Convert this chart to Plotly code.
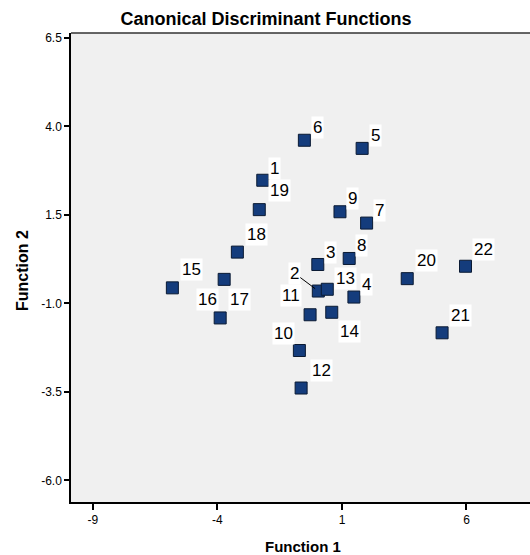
import plotly.graph_objects as go

# Data
case_ids = ["1", "2", "3", "4", "5", "6", "7", "8", "9", "10", "11",
            "12", "13", "14", "15", "16", "17", "18", "19", "20", "21", "22"]
function1 = [-2.18, 0.05, 0.03, 1.48, 1.81, -0.51, 1.99, 1.29, 0.92, -0.71, -0.28,
             -0.64, 0.41, 0.59, -5.81, -3.89, -3.73, -3.20, -2.32, 3.62, 5.02, 5.96]
function2 = [2.48, -0.65, 0.10, -0.82, 3.38, 3.61, 1.27, 0.27, 1.59, -2.33, -1.32,
             -3.39, -0.60, -1.25, -0.56, -1.41, -0.32, 0.45, 1.65, -0.30, -1.83, 0.05]
x_ticks = [-9, -4, 1, 6]
y_ticks = [6.5, 4.0, 1.5, -1.0, -3.5, -6.0]

# Label placement (screen offsets in px: dx right, dy down) - style only
label_offsets = {
    "1": (12, -12), "2": (-24, -18), "3": (13, -12), "4": (13, -13),
    "5": (13, -13), "6": (13, -13), "7": (13, -13), "8": (12, -13),
    "9": (13, -13), "10": (-16, -17), "11": (-19, -19), "12": (20, -18),
    "13": (18, -11), "14": (18, 19), "15": (19, -18), "16": (-13, -18),
    "17": (15, 20), "18": (19, -18), "19": (20, -19), "20": (19, -18),
    "21": (18, -17), "22": (18, -17),
}
leader_labels = {"2"}

FONT = "Liberation Sans, Arial, sans-serif"

W, H = 530, 555
L, T, R, B = 71, 33, 0, 53
PW, PH = W - L - R, H - T - B

fig = go.Figure()
fig.add_trace(go.Scatter(
    x=function1, y=function2, mode="markers",
    marker=dict(symbol="square", size=12, color="#143c7c",
                line=dict(color="#0a1a33", width=1)),
    hoverinfo="skip", showlegend=False,
))

for cid, fx, fy in zip(case_ids, function1, function2):
    dx, dy = label_offsets[cid]
    if cid in leader_labels:
        fig.add_annotation(x=fx, y=fy, xref="x", yref="y", text=cid,
                           showarrow=True, arrowhead=0, arrowwidth=1,
                           arrowcolor="black", ax=dx, ay=dy, standoff=4,
                           font=dict(family=FONT, size=17, color="black"),
                           bgcolor="white", borderpad=1)
    else:
        fig.add_annotation(x=fx, y=fy, xref="x", yref="y", text=cid,
                           showarrow=False, xshift=dx, yshift=-dy,
                           font=dict(family=FONT, size=17, color="black"),
                           bgcolor="white", borderpad=1)

# Axis titles
fig.add_annotation(text="<b>Function 1</b>", xref="paper", yref="paper",
                   x=(303 - L) / PW, y=-(546 - (H - B)) / PH,
                   showarrow=False, font=dict(family=FONT, size=15, color="black"),
                   xanchor="center", yanchor="middle")
fig.add_annotation(text="<b>Function 2</b>", xref="paper", yref="paper",
                   x=-(L - 22) / PW, y=((H - B) - 271) / PH,
                   showarrow=False, textangle=-90,
                   font=dict(family=FONT, size=16, color="black"),
                   xanchor="center", yanchor="middle")

fig.update_layout(
    width=W, height=H,
    margin=dict(l=L, r=R, t=T, b=B),
    paper_bgcolor="white",
    plot_bgcolor="#f0f0f0",
    title=dict(text="<b>Canonical Discriminant Functions</b>", x=266 / W,
               xref="container", y=1 - 19 / H, yref="container",
               xanchor="center", yanchor="middle",
               font=dict(family=FONT, size=18, color="black")),
    xaxis=dict(range=[-9.88, 8.55], tickvals=x_ticks, ticktext=[str(v) for v in x_ticks],
               showgrid=False, zeroline=False, showline=True, linecolor="black",
               linewidth=1.5, mirror=False, ticks="outside", ticklen=6,
               tickcolor="black", tickwidth=1.5,
               tickfont=dict(family=FONT, size=12, color="black")),
    yaxis=dict(range=[-6.61, 6.64], tickvals=y_ticks,
               ticktext=[f"{v:.1f}" for v in y_ticks],
               showgrid=False, zeroline=False, showline=True, linecolor="black",
               linewidth=1.5, ticks="outside", ticklen=5, tickcolor="black",
               tickwidth=1.5, tickfont=dict(family=FONT, size=12, color="black")),
)
# top frame line
fig.add_shape(type="line", xref="paper", yref="paper", x0=0, x1=1, y0=1, y1=1,
              line=dict(color="#333333", width=1.5))

fig.write_html(
    "out.html",
    config={"displayModeBar": False},
    post_script="document.body.style.margin='0';document.body.style.overflow='hidden';",
)
